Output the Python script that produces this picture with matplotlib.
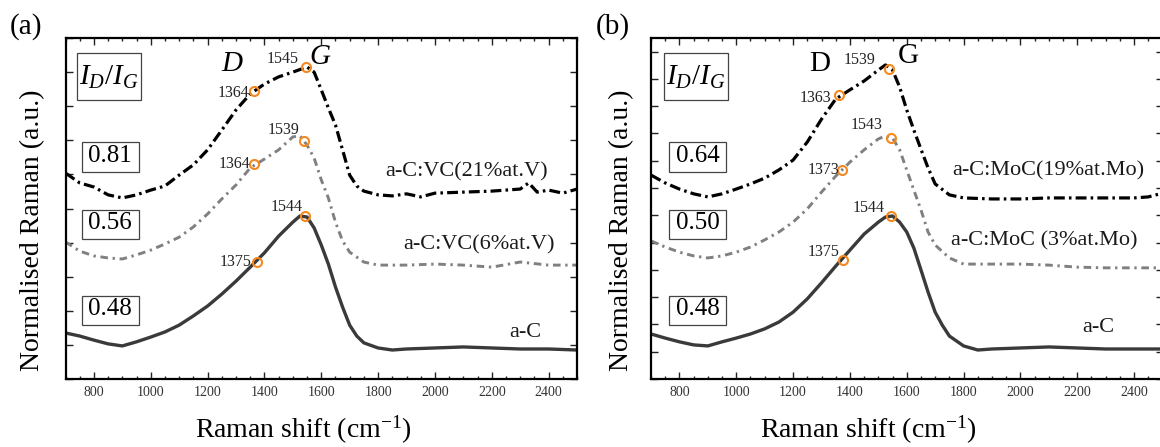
import matplotlib.pyplot as plt
from matplotlib.patches import Rectangle
from matplotlib.ticker import MultipleLocator

plt.rcParams['font.family'] = ['Liberation Serif', 'DejaVu Serif']
plt.rcParams['mathtext.fontset'] = 'custom'
plt.rcParams['mathtext.rm'] = 'Liberation Serif'
plt.rcParams['mathtext.it'] = 'Liberation Serif:italic'

# ---- panel (a): a-C:VC ----
wn_ac_a = [700, 750, 800, 850, 900, 950, 1000, 1050, 1100, 1150, 1200, 1250,
           1300, 1350, 1400, 1450, 1500, 1525, 1550, 1575, 1600, 1625, 1650,
           1675, 1700, 1725, 1750, 1800, 1850, 1900, 2000, 2100, 2200, 2300,
           2400, 2500]
ac_a = [1.35, 1.26, 1.14, 1.03, 0.97, 1.09, 1.23, 1.38, 1.58, 1.85, 2.14, 2.49,
        2.87, 3.28, 3.70, 4.19, 4.60, 4.78, 4.75, 4.43, 3.93, 3.37, 2.70,
        2.11, 1.58, 1.26, 1.06, 0.91, 0.85, 0.88, 0.91, 0.94, 0.91, 0.88,
        0.88, 0.85]

wn_vc6 = [700, 750, 800, 850, 900, 950, 1000, 1050, 1100, 1150, 1200, 1250,
          1300, 1350, 1400, 1450, 1500, 1525, 1550, 1575, 1600, 1625, 1650,
          1675, 1700, 1750, 1800, 1900, 2000, 2100, 2200, 2300, 2400, 2500]
vc6 = [4.02, 3.75, 3.61, 3.55, 3.52, 3.64, 3.78, 3.96, 4.16, 4.46, 4.84, 5.28,
       5.69, 6.19, 6.45, 6.72, 7.10, 7.13, 6.86, 6.48, 5.84, 5.31, 4.60,
       4.05, 3.72, 3.43, 3.34, 3.34, 3.37, 3.34, 3.28, 3.43, 3.34, 3.34]

wn_vc21 = [700, 750, 800, 850, 900, 950, 1000, 1050, 1100, 1150, 1200, 1250,
           1300, 1350, 1400, 1450, 1500, 1550, 1575, 1600, 1625, 1650, 1675,
           1700, 1725, 1750, 1800, 1850, 1900, 1950, 2000, 2100, 2200, 2300,
           2330, 2360, 2400, 2450, 2500]
vc21 = [6.04, 5.75, 5.63, 5.40, 5.31, 5.40, 5.54, 5.66, 5.98, 6.28, 6.72, 7.30,
        7.89, 8.36, 8.65, 8.86, 9.00, 9.15, 9.00, 8.48, 7.95, 7.45, 6.72,
        5.98, 5.66, 5.51, 5.40, 5.37, 5.43, 5.34, 5.45, 5.48, 5.51, 5.57,
        5.75, 5.48, 5.54, 5.45, 5.57]

# ---- panel (b): a-C:MoC ----
wn_ac_b = wn_ac_a
ac_b = [1.32, 1.20, 1.09, 1.00, 0.97, 1.09, 1.20, 1.32, 1.47, 1.67, 1.96, 2.35,
        2.82, 3.31, 3.78, 4.25, 4.60, 4.75, 4.78, 4.60, 4.31, 3.84, 3.20,
        2.55, 1.96, 1.58, 1.26, 0.97, 0.85, 0.88, 0.91, 0.94, 0.91, 0.88,
        0.88, 0.88]

wn_mo3 = [700, 750, 800, 850, 900, 950, 1000, 1050, 1100, 1150, 1200, 1250,
          1300, 1350, 1400, 1450, 1500, 1525, 1550, 1575, 1600, 1625, 1650,
          1675, 1700, 1750, 1800, 1900, 2000, 2100, 2200, 2300, 2400, 2500]
mo3 = [4.05, 3.87, 3.72, 3.61, 3.55, 3.61, 3.72, 3.87, 4.08, 4.31, 4.60, 4.99,
       5.48, 5.95, 6.36, 6.72, 7.04, 7.13, 7.07, 6.72, 6.13, 5.54, 4.96,
       4.31, 3.93, 3.55, 3.37, 3.37, 3.37, 3.34, 3.28, 3.26, 3.26, 3.26]

wn_mo19 = [700, 750, 800, 850, 900, 950, 1000, 1050, 1100, 1150, 1200, 1250,
           1300, 1350, 1400, 1450, 1500, 1525, 1550, 1575, 1600, 1625, 1650,
           1675, 1700, 1750, 1800, 1900, 2000, 2100, 2200, 2300, 2400, 2450,
           2500]
mo19 = [5.98, 5.75, 5.57, 5.43, 5.34, 5.43, 5.57, 5.72, 5.89, 6.13, 6.42, 6.95,
        7.62, 8.21, 8.48, 8.74, 9.06, 9.21, 9.06, 8.56, 7.89, 7.30, 6.74,
        6.19, 5.72, 5.40, 5.31, 5.28, 5.28, 5.31, 5.31, 5.31, 5.31, 5.34,
        5.45]

# fitted D and G positions (wavenumber, intensity) for each curve
peaks_a = [([1364, 1545], [8.45, 9.14]),
           ([1364, 1539], [6.30, 6.98]),
           ([1375, 1544], [3.43, 4.78])]
peaks_b = [([1363, 1539], [8.33, 9.08]),
           ([1373, 1543], [6.13, 7.08]),
           ([1375, 1544], [3.49, 4.78])]

ratios_a = ['0.81', '0.56', '0.48']
ratios_b = ['0.64', '0.50', '0.48']
names_a = ['a-C:VC(21%at.V)', 'a-C:VC(6%at.V)', 'a-C']
names_b = ['a-C:MoC(19%at.Mo)', 'a-C:MoC (3%at.Mo)', 'a-C']

STYLES = [dict(color='black', lw=2.3, dashes=(3.4, 1.3, 0.8, 1.3)),
          dict(color='#808080', lw=2.1, dashes=(2.6, 1.6, 0.8, 1.6)),
          dict(color='#3a3a3a', lw=2.4)]
ORANGE = '#f5891f'

# label offsets (points) relative to marker, [D, G] for each curve
offs_a = [[(-3.4, -1.7), (-4.8, 6.1)],
          [(-2.9, 0.0), (-3.1, 8.1)],
          [(-4.0, 0.0), (-2.2, 6.6)]]
offs_b = [[(-5.5, -2.5), (-10.0, 6.7)],
          [(-2.0, 0.0), (-6.0, 9.1)],
          [(-2.2, 5.8), (-4.3, 5.8)]]


def panel(ax, curves, peaks, offs, ratios, names, name_pos, box_x, dg,
          dg_italic, ytick):
    for (wn, vals), st, (px, py), off in zip(curves, STYLES, peaks, offs):
        ax.plot(wn, vals, solid_capstyle='butt', dash_capstyle='butt', **st)
        ax.plot(px, py, 'o', ms=6.5, mfc='none', mec=ORANGE, mew=1.5)
        for x, y, o in zip(px, py, off):
            ax.annotate(str(x), (x, y), xytext=o, textcoords='offset points',
                        ha='right', va='center', fontsize=11.5,
                        color='#222222')

    ax.set_xlim(700, 2500)
    ax.set_ylim(0, 10)
    ax.xaxis.set_major_locator(MultipleLocator(200))
    ax.xaxis.set_minor_locator(MultipleLocator(50))
    ax.yaxis.set_major_locator(MultipleLocator(ytick))
    ax.tick_params(which='both', direction='in', top=True, right=True,
                   labelleft=False, width=1.0, colors='#222222')
    ax.tick_params(which='major', length=5, labelsize=10, pad=5,
                   labelcolor='#333333')
    ax.tick_params(which='minor', length=2.5)
    for s in ax.spines.values():
        s.set_linewidth(1.6)

    # I_D/I_G header box and ratio boxes
    w, h = 64 / 511.5, 47 / 341
    ax.add_patch(Rectangle((box_x[0] - w / 2, 0.887 - h / 2), w, h,
                           transform=ax.transAxes, fill=False,
                           ec='#444444', lw=0.9))
    ax.text(box_x[0], 0.883, r'$I_D/I_G$', transform=ax.transAxes,
            ha='center', va='center', fontsize=21)
    w, h = 57 / 511.5, 29.4 / 341
    for r, yc in zip(ratios, [0.651, 0.453, 0.201]):
        ax.add_patch(Rectangle((box_x[1] - w / 2, yc - h / 2), w, h,
                               transform=ax.transAxes, fill=False,
                               ec='#444444', lw=0.9))
        ax.text(box_x[1], yc + 0.004, r, transform=ax.transAxes,
                ha='center', va='center', fontsize=18)

    for n, (x, y) in zip(names, name_pos):
        ax.text(x, y, n, transform=ax.transAxes, ha='right', va='center',
                fontsize=16, color='#1a1a1a')

    style = 'italic' if dg_italic else 'normal'
    for t, (x, y) in zip(['D', 'G'], dg):
        ax.text(x, y, t, transform=ax.transAxes, ha='center', va='center',
                fontsize=21, fontstyle=style)


fig = plt.figure(figsize=(11.6, 4.47), dpi=100)
ax1 = fig.add_axes([65.5 / 1160, 68 / 447, 511.5 / 1160, 341 / 447])
ax2 = fig.add_axes([651 / 1160, 68 / 447, 511.5 / 1160, 341 / 447])

panel(ax1, [(wn_vc21, vc21), (wn_vc6, vc6), (wn_ac_a, ac_a)], peaks_a,
      offs_a, ratios_a, names_a,
      [(0.943, 0.607), (0.957, 0.393), (0.930, 0.135)],
      (0.085, 0.087), [(0.326, 0.924), (0.498, 0.945)], True, 1.0)
panel(ax2, [(wn_mo19, mo19), (wn_mo3, mo3), (wn_ac_b, ac_b)], peaks_b,
      offs_b, ratios_b, names_b,
      [(0.965, 0.610), (0.951, 0.405), (0.906, 0.152)],
      (0.088, 0.091), [(0.329, 0.924), (0.503, 0.947)], False, 0.8)

for x0, lab in [(26, '(a)'), (613, '(b)')]:
    fig.text(x0 / 1160, 1 - 27 / 447, lab, ha='center', va='center',
             fontsize=21)
for xl, xx in [(33, 303), (622, 868)]:
    fig.text(xl / 1160, 1 - 230 / 447, 'Normalised Raman (a.u.)',
             rotation=90, ha='center', va='center', fontsize=20)
    fig.text(xx / 1160, 9 / 447, r'Raman shift (cm$^{-1}$)', ha='center',
             va='baseline', fontsize=20)

fig.savefig('out.png', dpi=100)
